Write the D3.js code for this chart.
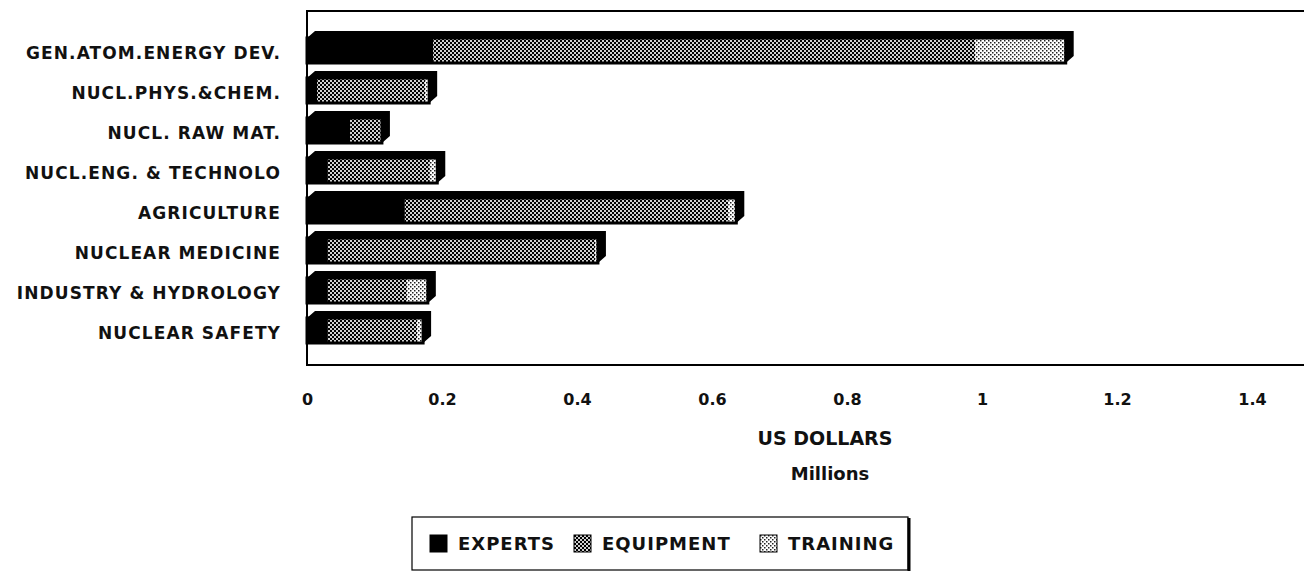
<!DOCTYPE html>
<html>
<head>
<meta charset="utf-8">
<script src="https://cdn.jsdelivr.net/npm/d3@7"></script>
<style>
  body { margin: 0; background: #fff; }
  text { font-family: "DejaVu Sans", "Liberation Sans", Arial, sans-serif; font-weight: bold; fill: #111; }
</style>
</head>
<body>
<div id="chart-area"></div>
<script>
// --> DATA (US dollars, millions)
var categories = ["GEN.ATOM.ENERGY DEV.", "NUCL.PHYS.&CHEM.", "NUCL. RAW MAT.", "NUCL.ENG. & TECHNOLO",
                  "AGRICULTURE", "NUCLEAR MEDICINE", "INDUSTRY & HYDROLOGY", "NUCLEAR SAFETY"];
var experts   = [0.187, 0.015, 0.064, 0.031, 0.145, 0.031, 0.031, 0.031];
var equipment = [0.803, 0.160, 0.044, 0.151, 0.479, 0.396, 0.117, 0.132];
var training  = [0.134, 0.006, 0.003, 0.011, 0.012, 0.004, 0.031, 0.009];
var seriesNames = ["EXPERTS", "EQUIPMENT", "TRAINING"];
var xTicks = [0, 0.2, 0.4, 0.6, 0.8, 1, 1.2, 1.4];

var width = 1304;
var height = 571;

var svg = d3.select("#chart-area").append("svg")
  .attr("width", width)
  .attr("height", height);

// patterns for the shaded segments
var defs = svg.append("defs");
var pEq = defs.append("pattern").attr("id", "equip")
  .attr("patternUnits", "userSpaceOnUse").attr("width", 4).attr("height", 4);
pEq.append("rect").attr("width", 4).attr("height", 4).attr("fill", "#d0d0d0");
pEq.append("rect").attr("width", 2).attr("height", 2).attr("fill", "#000");
pEq.append("rect").attr("x", 2).attr("y", 2).attr("width", 2).attr("height", 2).attr("fill", "#000");

var pTr = defs.append("pattern").attr("id", "train")
  .attr("patternUnits", "userSpaceOnUse").attr("width", 4).attr("height", 4);
pTr.append("rect").attr("width", 4).attr("height", 4).attr("fill", "#fff");
pTr.append("rect").attr("width", 1.5).attr("height", 1.5).attr("fill", "#222");
pTr.append("rect").attr("x", 2).attr("y", 2).attr("width", 1.5).attr("height", 1.5).attr("fill", "#222");

var fills = ["#000", "url(#equip)", "url(#train)"];

// Scales
var x = d3.scaleLinear().domain([0, 1.4]).range([307, 1252]);
var y = d3.scaleBand().domain(categories).range([23, 358]).padding(0.375);

// plot frame (no right edge visible)
svg.append("path")
  .attr("d", "M1310,11 H307 V365 H1310")
  .attr("fill", "none")
  .attr("stroke", "#000")
  .attr("stroke-width", 2);

// stacked data
var rows = categories.map(function(c, i){
  return { cat: c, EXPERTS: experts[i], EQUIPMENT: equipment[i], TRAINING: training[i] };
});
var stack = d3.stack().keys(seriesNames)(rows);

var dx = 8, dy = 7;

// 3D depth (top and right faces)
svg.append("g").selectAll("path.depth")
  .data(rows)
  .enter().append("path")
  .attr("class", "depth")
  .attr("fill", "#000")
  .attr("d", function(d){
    var total = d.EXPERTS + d.EQUIPMENT + d.TRAINING;
    var x0 = x(0), x1 = x(total), y0 = y(d.cat), y1 = y0 + y.bandwidth();
    return "M" + x0 + "," + y0 + " L" + (x0 + dx) + "," + (y0 - dy) +
           " L" + (x1 + dx) + "," + (y0 - dy) + " L" + (x1 + dx) + "," + (y1 - dy) +
           " L" + x1 + "," + y1 + " L" + x1 + "," + y0 + "Z";
  });

// segments
var layers = svg.append("g").selectAll("g.layer")
  .data(stack)
  .enter().append("g")
  .attr("class", "layer")
  .attr("fill", function(d, i){ return fills[i]; });

layers.selectAll("rect")
  .data(function(d){ return d; })
  .enter().append("rect")
  .attr("x", function(d){ return x(d[0]); })
  .attr("y", function(d){ return y(d.data.cat); })
  .attr("width", function(d){ return x(d[1]) - x(d[0]); })
  .attr("height", y.bandwidth());

// front face outline
svg.append("g").selectAll("rect.outline")
  .data(rows)
  .enter().append("rect")
  .attr("class", "outline")
  .attr("x", x(0))
  .attr("y", function(d){ return y(d.cat); })
  .attr("width", function(d){ return x(d.EXPERTS + d.EQUIPMENT + d.TRAINING) - x(0); })
  .attr("height", y.bandwidth())
  .attr("fill", "none")
  .attr("stroke", "#000")
  .attr("stroke-width", 3);

// category labels
svg.append("g").selectAll("text")
  .data(categories)
  .enter().append("text")
  .attr("x", 281)
  .attr("y", function(d){ return y(d) + y.bandwidth() / 2 + 3; })
  .attr("dy", "0.35em")
  .attr("text-anchor", "end")
  .style("font-size", "17px")
  .style("letter-spacing", "1.1px")
  .text(function(d){ return d; });

// x axis labels
var xAxis = d3.axisBottom(x).tickValues(xTicks).tickSize(0).tickPadding(0)
  .tickFormat(function(d){ return String(d); });
var gx = svg.append("g").attr("transform", "translate(0,394)").call(xAxis);
gx.select(".domain").remove();
gx.selectAll("text")
  .style("font-size", "16px")
  .style("font-family", "'DejaVu Sans', 'Liberation Sans', Arial, sans-serif")
  .style("font-weight", "bold")
  .attr("fill", "#111");

svg.append("text").attr("x", 825).attr("y", 445).attr("text-anchor", "middle")
  .style("font-size", "19px").text("US DOLLARS");
svg.append("text").attr("x", 830).attr("y", 480).attr("text-anchor", "middle")
  .style("font-size", "18px").text("Millions");

// legend
var legend = svg.append("g").attr("class", "legend");
legend.append("rect")
  .attr("x", 412).attr("y", 517).attr("width", 496).attr("height", 53)
  .attr("fill", "#fff").attr("stroke", "#000").attr("stroke-width", 1.2);
legend.append("line")
  .attr("x1", 909).attr("x2", 909).attr("y1", 518).attr("y2", 571)
  .attr("stroke", "#000").attr("stroke-width", 3);

var legendX = [430, 574, 760];
var items = legend.selectAll("g.item")
  .data(seriesNames)
  .enter().append("g")
  .attr("class", "item")
  .attr("transform", function(d, i){ return "translate(" + legendX[i] + ",535)"; });
items.append("rect")
  .attr("width", 17).attr("height", 17)
  .attr("fill", function(d, i){ return fills[i]; })
  .attr("stroke", "#000").attr("stroke-width", 1);
items.append("text")
  .attr("x", 28).attr("y", 9).attr("dy", "0.35em")
  .style("font-size", "18px")
  .style("letter-spacing", "1px")
  .text(function(d){ return d; });
</script>
</body>
</html>
